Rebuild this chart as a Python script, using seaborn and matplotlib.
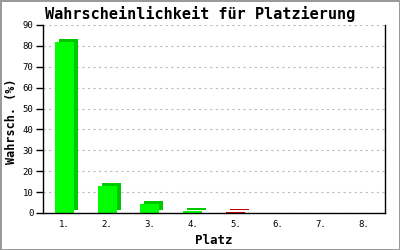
import matplotlib
matplotlib.use("Agg")
import matplotlib.pyplot as plt
import matplotlib.transforms as mtransforms
import seaborn as sns
import pandas as pd

places = ["1.", "2.", "3.", "4.", "5.", "6.", "7.", "8."]
probs = [82, 12.7, 4.5, 1.0, 0.5, 0, 0, 0]
kinds = ["g", "g", "g", "g", "r", "g", "g", "g"]
yticks = [0, 10, 20, 30, 40, 50, 60, 70, 80, 90]

df = pd.DataFrame({"Platz": places, "p": probs, "k": kinds})

sns.set_style("white")
plt.rcParams["font.family"] = ["DejaVu Sans Mono", "DejaVu Sans"]
plt.rcParams["text.color"] = "black"
plt.rcParams["axes.labelcolor"] = "black"
plt.rcParams["xtick.color"] = "black"
plt.rcParams["ytick.color"] = "black"

fig = plt.figure(figsize=(4, 2.5), dpi=100)
fig.patch.set_facecolor("white")
fig.patch.set_edgecolor("#9a9a9a")
fig.patch.set_linewidth(2)
ax = fig.add_axes([0.1075, 0.148, 0.855, 0.752])

shadow = {"g": "#00c800", "r": "#c00000"}
front = {"g": "#00ff00", "r": "#d40000"}

# shadow (3D depth) bars, offset a few pixels up/right
off = mtransforms.ScaledTranslation(4 / 100, 3 / 100, fig.dpi_scale_trans)
sns.barplot(data=df, x="Platz", y="p", hue="k", palette=shadow, width=0.45,
            dodge=False, legend=False, ax=ax, saturation=1, linewidth=0)
for p in ax.patches:
    p.set_transform(ax.transData + off)
    if p.get_height() == 0:
        p.set_visible(False)
n = len(ax.patches)
sns.barplot(data=df, x="Platz", y="p", hue="k", palette=front, width=0.45,
            dodge=False, legend=False, ax=ax, saturation=1, linewidth=0)
for p in ax.patches[n:]:
    if p.get_height() == 0:
        p.set_visible(False)

ax.set_xlim(-0.5, 7.5)
ax.set_ylim(0, 90)
ax.set_yticks(yticks)
ax.set_yticklabels([str(t) for t in yticks])
ax.yaxis.grid(True, color="#bbbbbb", linestyle=(0, (2, 3)), linewidth=0.8)
ax.set_axisbelow(True)
for s in ["left", "bottom", "right"]:
    ax.spines[s].set_visible(True)
    ax.spines[s].set_color("black")
    ax.spines[s].set_linewidth(1)
ax.spines["top"].set_visible(False)
ax.tick_params(axis="y", direction="out", length=5, width=1, left=True,
               labelsize=6.5, pad=2, colors="black")
ax.tick_params(axis="x", length=0, labelsize=6.5, pad=5, colors="black")
ax.set_xlabel("Platz", fontsize=9, fontweight="bold", labelpad=4)
ax.set_ylabel("Wahrsch. (%)", fontsize=8.5, fontweight="bold")
ax.yaxis.set_label_coords(-0.072, 0.49)
fig.text(0.5, 0.945, "Wahrscheinlichkeit für Platzierung", ha="center",
         va="center", fontsize=11, fontweight="bold")

fig.savefig("out.png", dpi=100, facecolor=fig.get_facecolor(),
            edgecolor=fig.get_edgecolor())
